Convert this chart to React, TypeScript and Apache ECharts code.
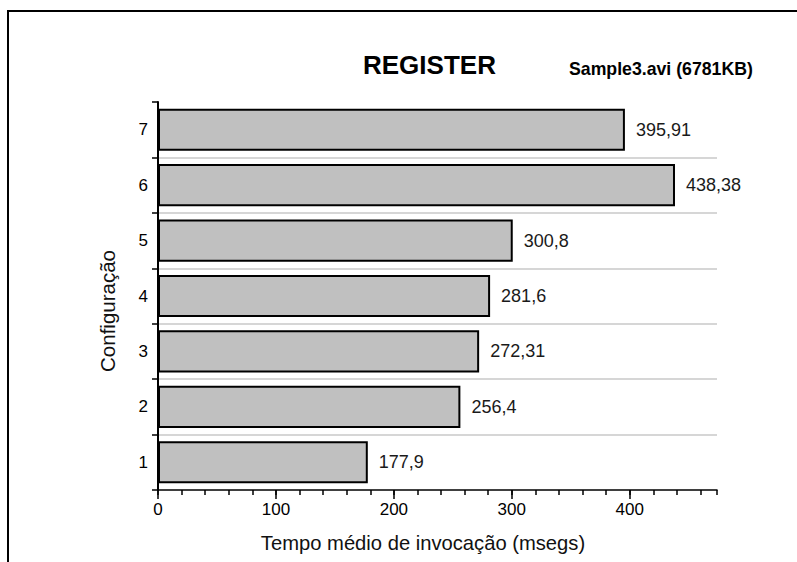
import React, { useEffect, useRef } from "react";
import * as echarts from "echarts";

const categories = ["1", "2", "3", "4", "5", "6", "7"];
const values = [177.9, 256.4, 272.31, 281.6, 300.8, 438.38, 395.91];
const xTicks = [0, 100, 200, 300, 400];
const titleText = "REGISTER";
const subtitleText = "Sample3.avi (6781KB)";
const xName = "Tempo médio de invocação (msegs)";
const yName = "Configuração";

const FONT = "'Liberation Sans', Arial, sans-serif";

export default function App() {
  const ref = useRef<HTMLDivElement>(null);
  useEffect(() => {
    if (!ref.current) return;
    const chart = echarts.init(ref.current, null, { renderer: "svg" });
    const xMin = 0;
    const xMax = 474;
    chart.setOption({
      animation: false,
      backgroundColor: "#ffffff",
      textStyle: { fontFamily: FONT },
      grid: { left: 158, top: 102, right: 80, bottom: 72, containLabel: false },
      xAxis: [
        {
          type: "value",
          min: xMin,
          max: xMax,
          interval: 100,
          position: "bottom",
          axisLine: { show: true, lineStyle: { color: "#000", width: 1.5 } },
          axisTick: { show: true, length: 9, lineStyle: { color: "#000", width: 1.5 } },
          axisLabel: {
            show: true,
            margin: 11,
            fontSize: 17,
            color: "#000",
            fontFamily: FONT,
            showMaxLabel: false,
            formatter: (v: number) => (xTicks.includes(v) ? String(v) : ""),
          },
          splitLine: { show: false },
        },
        {
          type: "value",
          min: xMin,
          max: xMax,
          interval: 20,
          position: "bottom",
          axisLine: { show: false },
          axisTick: { show: true, length: 5, lineStyle: { color: "#000", width: 1.5 } },
          axisLabel: { show: false },
          splitLine: { show: false },
        },
      ],
      yAxis: {
        type: "category",
        data: categories,
        axisLine: { show: true, lineStyle: { color: "#000", width: 2 } },
        axisTick: { show: true, length: 6, lineStyle: { color: "#000", width: 1.5 } },
        axisLabel: { margin: 10, fontSize: 17, color: "#000", fontFamily: FONT },
        splitLine: {
          show: true,
          showMinLine: false,
          showMaxLine: false,
          lineStyle: { color: "#c8c8c8", width: 1.5 },
        },
      },
      series: [
        {
          type: "bar",
          xAxisIndex: 0,
          data: values,
          barWidth: "76%",
          itemStyle: { color: "#c0c0c0", borderColor: "#000", borderWidth: 2 },
          label: {
            show: true,
            position: "right",
            distance: 11,
            fontSize: 18,
            color: "#1a1a1a",
            fontFamily: FONT,
            formatter: (p: any) => String(p.value).replace(".", ","),
          },
        },
      ],
      graphic: [
        {
          type: "polyline",
          shape: { points: [[8, 562], [8, 11], [797, 11]] },
          style: { stroke: "#000", lineWidth: 2, fill: null },
        },
        {
          type: "text",
          x: 363,
          y: 65,
          style: {
            text: titleText,
            fontSize: 26,
            fontWeight: "bold",
            fontFamily: FONT,
            fill: "#000",
            align: "left",
            verticalAlign: "middle",
          },
        },
        {
          type: "text",
          x: 569,
          y: 69,
          style: {
            text: subtitleText,
            fontSize: 17.7,
            fontWeight: "bold",
            fontFamily: FONT,
            fill: "#000",
            align: "left",
            verticalAlign: "middle",
          },
        },
        {
          type: "text",
          x: 423,
          y: 543,
          style: {
            text: xName,
            fontSize: 20.2,
            fontFamily: FONT,
            fill: "#111",
            align: "center",
            verticalAlign: "middle",
          },
        },
        {
          type: "text",
          x: 107,
          y: 311,
          rotation: Math.PI / 2,
          style: {
            text: yName,
            fontSize: 20.5,
            fontFamily: FONT,
            fill: "#111",
            align: "center",
            verticalAlign: "middle",
          },
        },
      ],
    });
    return () => chart.dispose();
  }, []);
  return <div ref={ref} style={{ width: 797, height: 562, position: "absolute", left: 0, top: 0 }} />;
}
